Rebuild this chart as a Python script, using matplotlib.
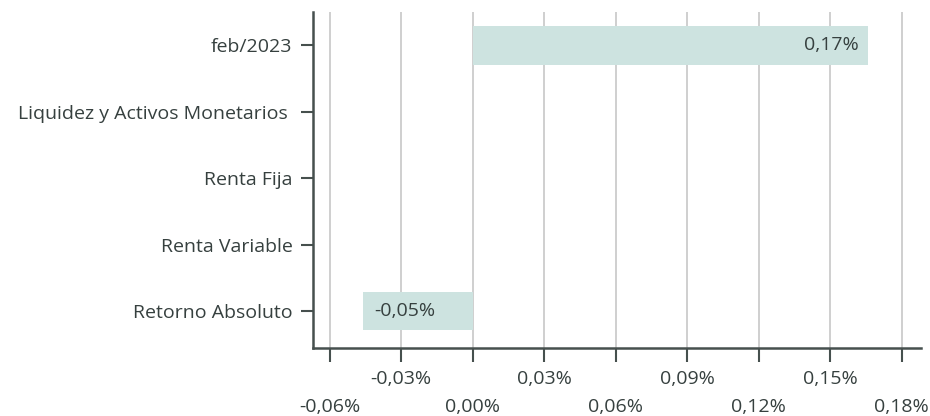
import matplotlib
matplotlib.use("Agg")
import matplotlib.pyplot as plt
import numpy as np

categories = ["feb/2023", "Liquidez y Activos Monetarios ", "Renta Fija", "Renta Variable", "Retorno Absoluto"]
values = [0.166, 0.0, 0.0, 0.0, -0.046]
value_labels = ["0,17%", "", "", "", "-0,05%"]
major_ticks = [-0.06, 0.00, 0.06, 0.12, 0.18]
major_labels = ["-0,06%", "0,00%", "0,06%", "0,12%", "0,18%"]
minor_ticks = [-0.03, 0.03, 0.09, 0.15]
minor_labels = ["-0,03%", "0,03%", "0,09%", "0,15%"]

text_color = "#36403f"
spine_color = "#46504e"
bar_color = "#cde3e0"
grid_color = "#cccccc"
fs = 14

plt.rcParams['font.family'] = ['Open Sans', 'DejaVu Sans']

fig = plt.figure(figsize=(9.3, 4.16), dpi=100)
ax = fig.add_axes([0.337, 0.163, 0.653, 0.808])

y = np.arange(len(categories))
ax.barh(y, values, height=0.58, color=bar_color, zorder=2)

ax.set_xlim(-0.0668, 0.188)
ax.set_ylim(4.56, -0.5)

ax.set_yticks(y)
ax.set_yticklabels(categories, fontsize=fs, color=text_color)

ax.set_xticks(major_ticks)
ax.set_xticklabels(major_labels, fontsize=fs, color=text_color)
ax.set_xticks(minor_ticks, minor=True)
ax.set_xticklabels(minor_labels, minor=True, fontsize=fs, color=text_color)

ax.tick_params(axis='x', which='major', length=10, width=1.5, color=spine_color, pad=26)
ax.tick_params(axis='x', which='minor', length=10, width=1.5, color=spine_color, pad=6)
ax.tick_params(axis='y', length=9, width=1.5, color=spine_color, pad=6)

ax.grid(True, axis='x', which='both', color=grid_color, linewidth=1.3, zorder=0)
ax.set_axisbelow(True)

for s in ['top', 'right']:
    ax.spines[s].set_visible(False)
for s in ['left', 'bottom']:
    ax.spines[s].set_color(spine_color)
    ax.spines[s].set_linewidth(1.8)

for yi, v, lab in zip(y, values, value_labels):
    if not lab:
        continue
    if v >= 0:
        ax.annotate(lab, xy=(v, yi), xytext=(-7, 0), textcoords='offset points',
                    ha='right', va='center', fontsize=fs, color=text_color, zorder=3)
    else:
        ax.annotate(lab, xy=(v, yi), xytext=(8, 0), textcoords='offset points',
                    ha='left', va='center', fontsize=fs, color=text_color, zorder=3)

fig.savefig("out.png", dpi=100)
